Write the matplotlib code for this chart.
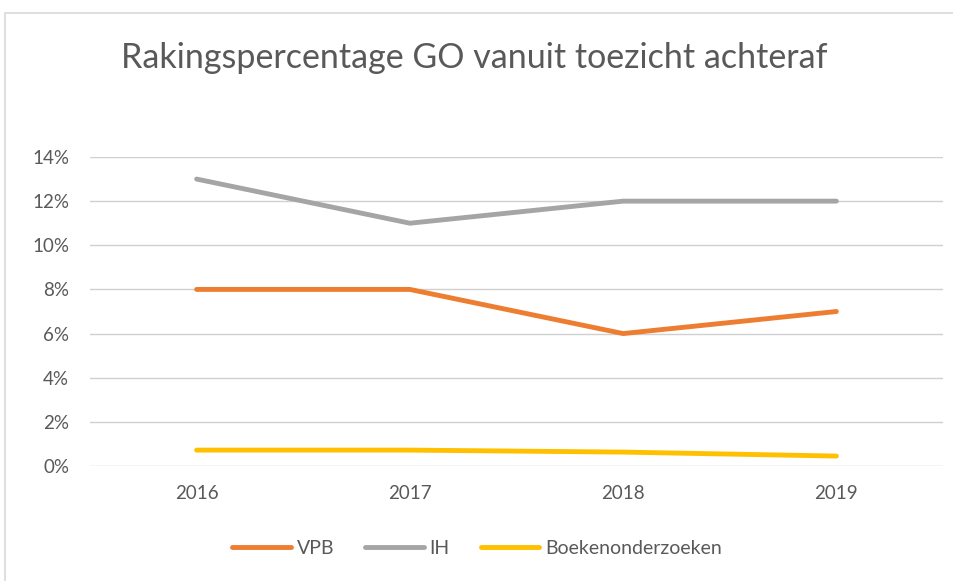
import matplotlib.pyplot as plt
from matplotlib.patches import Rectangle
from matplotlib.ticker import FuncFormatter

years = ["2016", "2017", "2018", "2019"]
vpb = [0.08, 0.08, 0.06, 0.07]
ih = [0.13, 0.11, 0.12, 0.12]
boeken = [0.0072, 0.0072, 0.0063, 0.0045]

plt.rcParams['font.family'] = ['Lato', 'DejaVu Sans']

fig = plt.figure(figsize=(9.54, 5.81), dpi=100)
fig.patches.append(Rectangle((5 / 954, -0.01), 1.0, 1 - 13 / 581 + 0.01, transform=fig.transFigure,
                             fill=False, edgecolor="#d9d9d9", linewidth=1.2))

ax = fig.add_axes([90 / 954, 1 - 466 / 581, (943 - 90) / 954, (466 - 157) / 581])
x = range(len(years))
ax.plot(x, vpb, color="#ed7d31", linewidth=3.5, label="VPB", solid_capstyle="round")
ax.plot(x, ih, color="#a5a5a5", linewidth=3.5, label="IH", solid_capstyle="round")
ax.plot(x, boeken, color="#ffc000", linewidth=3.5, label="Boekenonderzoeken", solid_capstyle="round")

ax.set_xlim(-0.5, 3.5)
ax.set_ylim(0, 0.14)
ax.set_yticks([i * 0.02 for i in range(8)])
ax.yaxis.set_major_formatter(FuncFormatter(lambda v, p: f"{v * 100:.0f}%"))
ax.set_xticks(list(x))
ax.set_xticklabels(years)
ax.grid(axis="y", color="#d0d0d0", linewidth=1)
ax.set_axisbelow(True)
for s in ax.spines.values():
    s.set_visible(False)
ax.tick_params(axis="y", length=0, labelsize=13.5, colors="#595959", pad=15)
ax.tick_params(axis="x", length=0, labelsize=13.5, colors="#595959", pad=14)

fig.text(0.497, 1 - 58 / 581, "Rakingspercentage GO vanuit toezicht achteraf", ha="center", va="center",
         fontsize=24.5, color="#595959")

fig.legend(loc="center", bbox_to_anchor=(0.5, 1 - 548 / 581), ncol=3, frameon=False, fontsize=14,
           handlelength=3.0, handletextpad=0.3, columnspacing=1.6, labelcolor="#595959")

fig.savefig("out.png", dpi=100)
